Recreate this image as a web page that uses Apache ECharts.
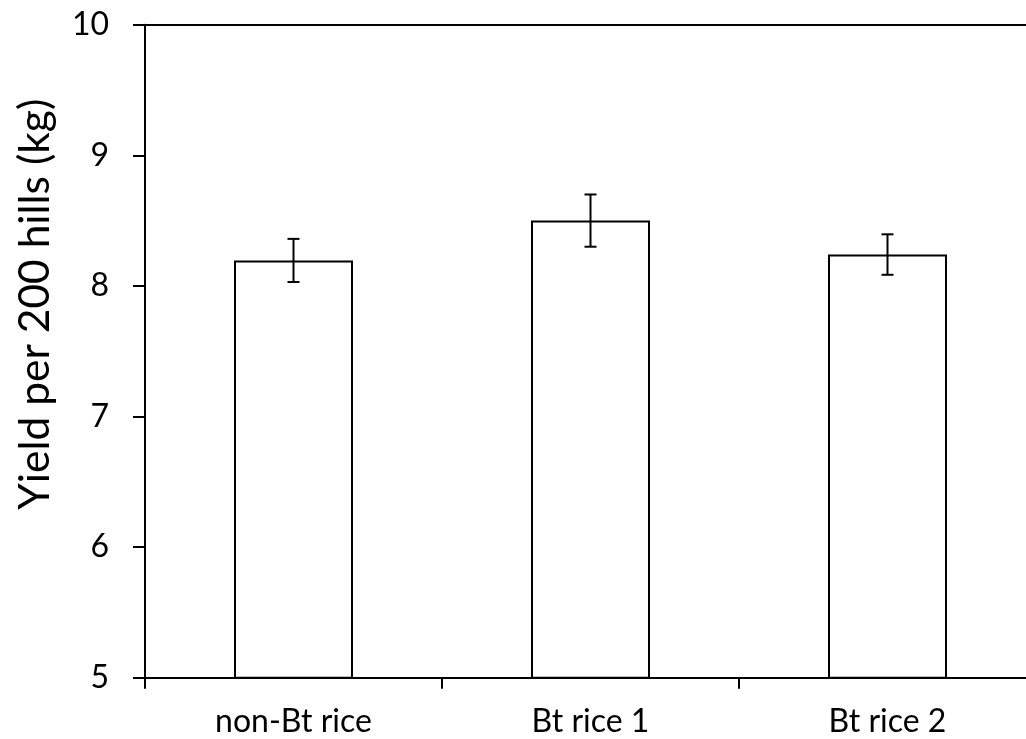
<!DOCTYPE html>
<html>
<head>
<meta charset="utf-8">
<script src="https://cdn.jsdelivr.net/npm/echarts@6/dist/echarts.min.js"></script>
<style>
html,body{margin:0;padding:0;background:#fff;overflow:hidden;}
#chart{width:1044px;height:739px;}
</style>
</head>
<body>
<div id="chart"></div>
<script>
const categories = ['non-Bt rice', 'Bt rice 1', 'Bt rice 2'];
const yieldMeans = [8.195, 8.50, 8.24];
const yieldErrors = [0.165, 0.20, 0.155];
const yTicks = [5, 6, 7, 8, 9, 10];
const yTitle = 'Yield per 200 hills (kg)';

const errorData = categories.map((c, i) => [i, yieldMeans[i] - yieldErrors[i], yieldMeans[i] + yieldErrors[i]]);

const FONT = 'Lato';
const chart = echarts.init(document.getElementById('chart'), null, {renderer: 'canvas'});
chart.setOption({
  animation: false,
  backgroundColor: '#ffffff',
  grid: {left: 145, top: 24.7, width: 891, height: 653, containLabel: false},
  xAxis: [{
    type: 'category',
    data: categories,
    position: 'bottom',
    axisLine: {show: true, lineStyle: {color: '#000', width: 2}},
    axisTick: {show: true, length: 11, lineStyle: {color: '#000', width: 2}},
    axisLabel: {color: '#000', fontFamily: FONT, fontSize: 32, margin: 28},
    splitLine: {show: false}
  }, {
    type: 'category',
    data: categories,
    position: 'top',
    axisLine: {show: true, lineStyle: {color: '#000', width: 2}},
    axisTick: {show: false},
    axisLabel: {show: false},
    splitLine: {show: false}
  }],
  yAxis: {
    type: 'value',
    min: yTicks[0],
    max: yTicks[yTicks.length - 1],
    interval: 1,
    name: yTitle,
    nameLocation: 'middle',
    nameGap: 88,
    nameRotate: 90,
    nameTextStyle: {color: '#000', fontFamily: FONT, fontSize: 42.5, padding: [0, 0, 0, 94]},
    axisLine: {show: true, lineStyle: {color: '#000', width: 2}},
    axisTick: {show: true, inside: false, length: 12, lineStyle: {color: '#000', width: 2}},
    axisLabel: {color: '#000', fontFamily: FONT, fontSize: 32, margin: 36},
    splitLine: {show: false}
  },
  series: [{
    type: 'bar',
    data: yieldMeans,
    barWidth: 119,
    itemStyle: {color: '#ffffff', borderColor: '#000', borderWidth: 2},
    z: 2
  }, {
    type: 'custom',
    data: errorData,
    z: 5,
    encode: {x: 0, y: [1, 2]},
    renderItem: function (params, api) {
      const x = api.value(0);
      const lo = api.coord([x, api.value(1)]);
      const hi = api.coord([x, api.value(2)]);
      const hw = 6;
      const style = {stroke: '#000', lineWidth: 2, fill: null};
      return {
        type: 'group',
        children: [
          {type: 'line', shape: {x1: hi[0], y1: hi[1], x2: lo[0], y2: lo[1]}, style: style},
          {type: 'line', shape: {x1: hi[0] - hw, y1: hi[1], x2: hi[0] + hw, y2: hi[1]}, style: style},
          {type: 'line', shape: {x1: lo[0] - hw, y1: lo[1], x2: lo[0] + hw, y2: lo[1]}, style: style}
        ]
      };
    }
  }]
});
</script>
</body>
</html>
